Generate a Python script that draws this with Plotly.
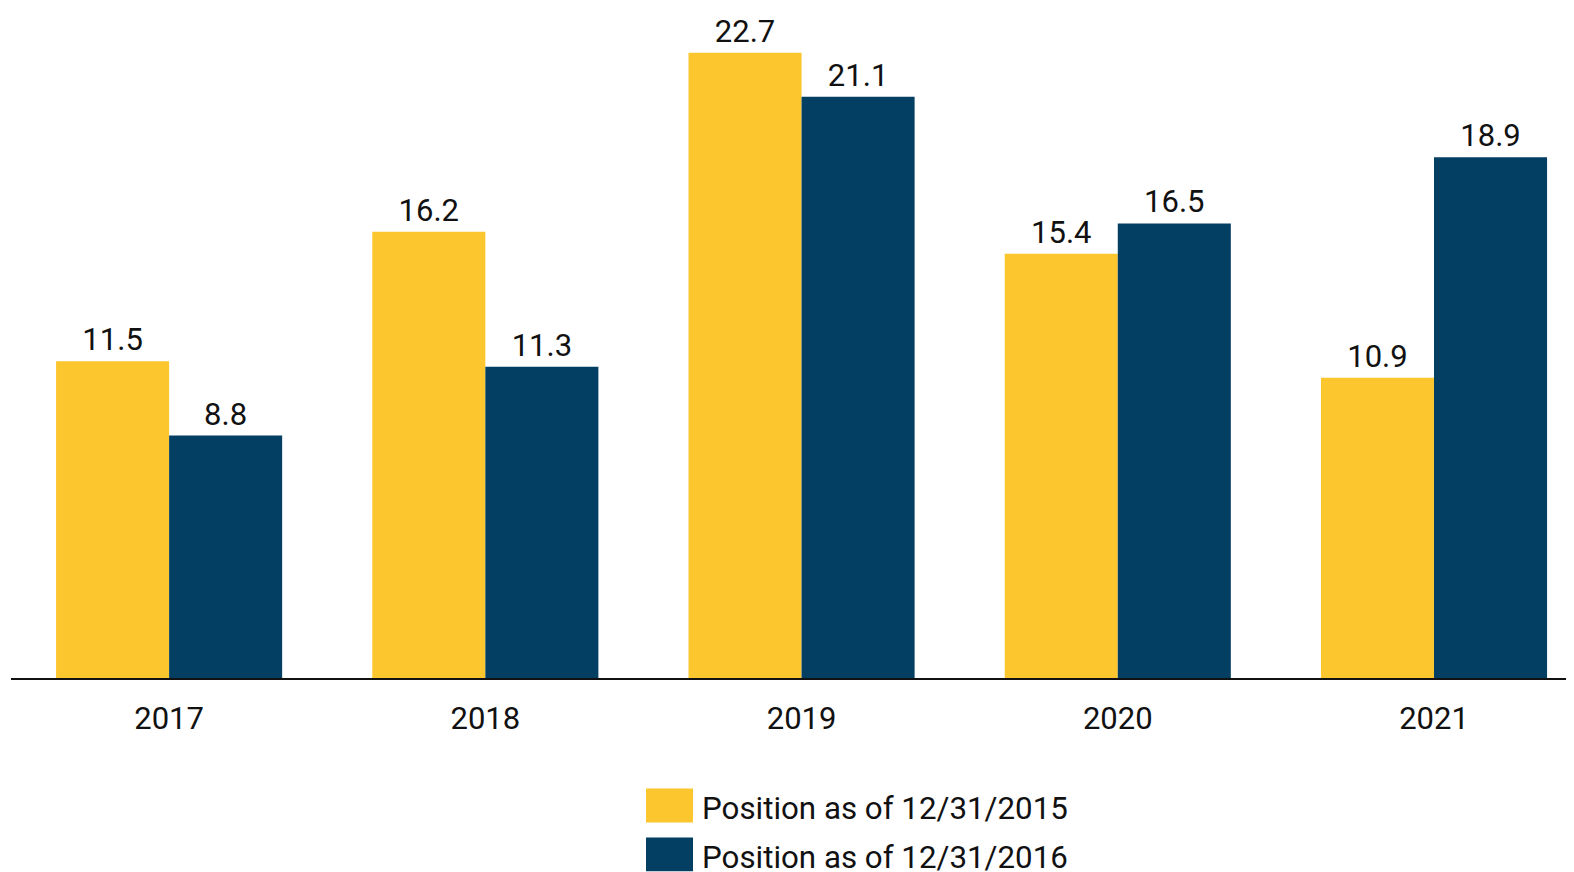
import plotly.graph_objects as go

years = ["2017", "2018", "2019", "2020", "2021"]
pos_2015 = [11.5, 16.2, 22.7, 15.4, 10.9]
pos_2016 = [8.8, 11.3, 21.1, 16.5, 18.9]
series_names = ["Position as of 12/31/2015", "Position as of 12/31/2016"]
colors = ["#FCC62F", "#033F62"]

FONT = "Roboto"
W, H = 1574, 872
L = 3            # left margin (px)
PH = 670.5       # plot area height (px)

fig = go.Figure()
for name, vals, col in zip(series_names, [pos_2015, pos_2016], colors):
    fig.add_trace(go.Bar(
        x=years, y=vals, name=name, marker=dict(color=col, line=dict(width=0)),
        text=[f"{v:.1f}" for v in vals], textposition="outside",
        textfont=dict(family=FONT, size=31, color="#111111"),
        cliponaxis=False, showlegend=False,
    ))

# manual legend (large swatches), positions in figure pixels
rows = [(781, 815), (830, 864)]
for (y0, y1), name, col in zip(rows, series_names, colors):
    fig.add_shape(type="rect", xref="paper", yref="paper",
                  x0=(638 - L) / (W - L), x1=(685 - L) / (W - L),
                  y0=(PH - y1) / PH, y1=(PH - y0) / PH,
                  fillcolor=col, line=dict(width=0))
    fig.add_annotation(xref="paper", yref="paper",
                       x=(692 - L) / (W - L), y=(PH - ((y0 + y1) / 2 + 3)) / PH,
                       text=name, showarrow=False, xanchor="left", yanchor="middle",
                       font=dict(family=FONT, size=31.3, color="#111111"))

fig.update_layout(
    width=W, height=H,
    margin=dict(l=L, r=0, t=0, b=H - PH),
    plot_bgcolor="white", paper_bgcolor="white",
    barmode="group", bargap=0.285, bargroupgap=0,
    font=dict(family=FONT, size=31, color="#111111"),
    xaxis=dict(range=[-0.5, 4.468], showline=True, linecolor="#111111", linewidth=2,
               showgrid=False, ticks="", tickfont=dict(family=FONT, size=31, color="#111111"),
               ticklabelstandoff=12),
    yaxis=dict(range=[0, PH / 27.57], visible=False, showgrid=False),
)

fig.write_html("out.html")
